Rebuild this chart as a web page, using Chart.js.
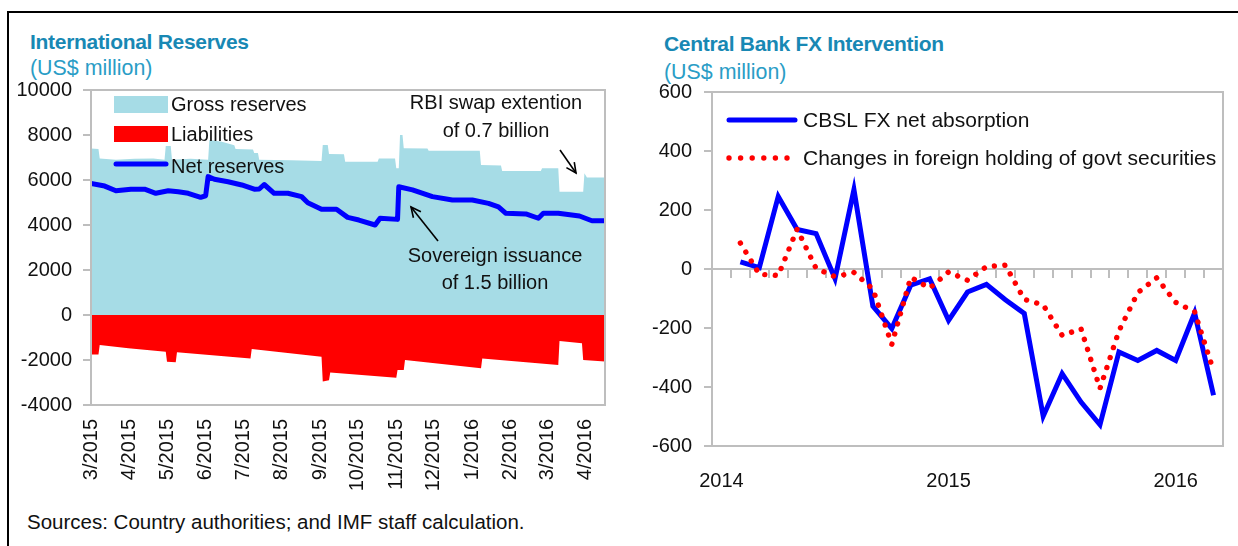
<!DOCTYPE html>
<html><head><meta charset="utf-8">
<script src="https://cdn.jsdelivr.net/npm/chart.js@4.4.1/dist/chart.umd.min.js"></script>
<style>
html,body{margin:0;padding:0;background:#fff;}
body{width:1238px;height:546px;position:relative;overflow:hidden;font-family:'Liberation Sans',Arial,sans-serif;}
.box{position:absolute;top:0;height:546px;}
.t{position:absolute;white-space:nowrap;line-height:24px;}
.ttl{font-weight:bold;font-size:21px;color:#1888B4;letter-spacing:-0.3px;}
.sub{font-size:21.4px;color:#2A9DC6;}
.line{position:absolute;background:#000;}
</style></head><body>
<div class="line" style="left:8px;top:11px;width:1230px;height:2px"></div>
<div class="line" style="left:7px;top:11px;width:2px;height:535px"></div>
<div class="t ttl" style="left:30px;top:30px">International Reserves</div>
<div class="t sub" style="left:30px;top:56px">(US$ million)</div>
<div class="t ttl" style="left:664px;top:32px">Central Bank FX Intervention</div>
<div class="t sub" style="left:664px;top:60px">(US$ million)</div>
<div class="t" style="left:27px;top:510px;font-size:20.5px;color:#111">Sources: Country authorities; and IMF staff calculation.</div>
<div class="box" style="left:0;width:620px"><canvas id="c1" width="620" height="546"></canvas></div>
<div class="box" style="left:620px;width:618px"><canvas id="c2" width="618" height="546"></canvas></div>
<script>
// ---------- Left chart data (days since 1 Mar 2015) ----------
const monthTickDays = [0,31,61,92,122,153,184,214,245,275,306,337,366,397];
const monthTickLabels = ['3/2015','4/2015','5/2015','6/2015','7/2015','8/2015','9/2015','10/2015','11/2015','12/2015','1/2016','2/2016','3/2016','4/2016'];

const grossDays = [0,6,7,20,35,50,59,60,64,65,80,94,95,105,115,116,130,131,134,135,160,185,186,190,191,203,204,230,231,244,245,247,248,250,251,270,271,312,313,329,330,361,362,375,376,395,396,398,413];
const grossVals = [7400,7380,6960,6900,6950,6960,6900,7510,7510,6900,6950,6900,7780,7700,7550,7380,7360,7200,7200,6900,6880,6850,7555,7555,7155,7150,6810,6810,6960,6960,6520,6520,8000,8000,7410,7400,7300,7300,6670,6650,6400,6400,6520,6520,5480,5480,6300,6110,6110];

const liabDays = [0,6,7,30,60,61,68,69,128,129,185,186,191,192,245,246,251,252,313,314,375,376,394,395,413];
const liabVals = [-1750,-1750,-1330,-1480,-1630,-2080,-2100,-1660,-1930,-1510,-1850,-2960,-2900,-2560,-2785,-2440,-2440,-2000,-2370,-1930,-2220,-1155,-1250,-2000,-2070];

const netDays = [0,11,20,32,43,52,62,70,78,88,92,94,99,110,121,131,135,139,147,158,169,174,185,197,206,215,228,232,246,247,258,274,290,306,319,327,333,349,359,363,375,392,402,413];
const netVals = [5850,5730,5520,5590,5590,5410,5520,5480,5410,5230,5300,6150,6030,5920,5780,5590,5600,5800,5410,5410,5260,4990,4700,4700,4340,4220,4000,4300,4250,5700,5560,5260,5110,5110,4960,4810,4520,4490,4300,4520,4520,4400,4190,4190];

// ---------- Right chart data (monthly) ----------
const fxMonths = ['Jan 2014','Feb 2014','Mar 2014','Apr 2014','May 2014','Jun 2014','Jul 2014','Aug 2014','Sep 2014','Oct 2014','Nov 2014','Dec 2014',
 'Jan 2015','Feb 2015','Mar 2015','Apr 2015','May 2015','Jun 2015','Jul 2015','Aug 2015','Sep 2015','Oct 2015','Nov 2015','Dec 2015',
 'Jan 2016','Feb 2016','Mar 2016'];
const cbslNet = [null,24,5,246,134,120,-33,269,-126,-202,-55,-33,-174,-78,-52,-104,-151,-499,-355,-451,-528,-281,-310,-276,-310,-149,-428];
const foreignHold = [null,88,-18,-22,135,2,-26,-12,-68,-256,-28,-65,-10,-38,8,13,-103,-122,-225,-203,-405,-210,-80,-30,-113,-145,-345];

// ---------- common ----------
Chart.defaults.font.family = "'Liberation Sans', Arial, sans-serif";
Chart.defaults.font.size = 20;
Chart.defaults.color = '#111';
const GREY = '#BEBEBE';
const toXY = (xs, ys) => xs.map((x, i) => ({x: x, y: ys[i]}));
const plainNum = v => String(v);

function arrow(ctx, x1, y1, x2, y2) {
  ctx.save();
  ctx.strokeStyle = '#000'; ctx.lineWidth = 1.6;
  ctx.beginPath(); ctx.moveTo(x1, y1); ctx.lineTo(x2, y2); ctx.stroke();
  const a = Math.atan2(y2 - y1, x2 - x1), L = 11, w = 0.45;
  ctx.beginPath();
  ctx.moveTo(x2 - L * Math.cos(a - w), y2 - L * Math.sin(a - w));
  ctx.lineTo(x2, y2);
  ctx.lineTo(x2 - L * Math.cos(a + w), y2 - L * Math.sin(a + w));
  ctx.stroke();
  ctx.restore();
}
const boxPlugin = {
  id: 'boxPlugin',
  afterDatasetsDraw(chart) {
    const {ctx, chartArea: a} = chart;
    ctx.save(); ctx.strokeStyle = GREY; ctx.lineWidth = 2;
    ctx.strokeRect(a.left, a.top, a.right - a.left, a.bottom - a.top);
    ctx.restore();
  }
};
const noSidePad = s => { s.paddingLeft = 0; s.paddingRight = 0; };

// ---------- Left chart ----------
const leftDecor = {
  id: 'leftDecor',
  afterDraw(chart) {
    const ctx = chart.ctx;
    ctx.save();
    ctx.font = "20px 'Liberation Sans', Arial, sans-serif";
    ctx.textBaseline = 'middle'; ctx.textAlign = 'left';
    ctx.fillStyle = '#A6DCE6'; ctx.fillRect(114, 96, 54, 17);
    ctx.fillStyle = '#FF0000'; ctx.fillRect(114, 126, 54, 16);
    ctx.strokeStyle = '#0000FF'; ctx.lineWidth = 5; ctx.lineCap = 'round';
    ctx.beginPath(); ctx.moveTo(116, 164); ctx.lineTo(166, 164); ctx.stroke();
    ctx.fillStyle = '#111';
    ctx.fillText('Gross reserves', 171, 105);
    ctx.fillText('Liabilities', 171, 135);
    ctx.fillText('Net reserves', 171, 167);
    ctx.textAlign = 'center';
    ctx.fillText('RBI swap extention', 496, 103);
    ctx.fillText('of 0.7 billion', 496, 131);
    ctx.fillText('Sovereign issuance', 495, 256);
    ctx.fillText('of 1.5 billion', 495, 283);
    ctx.restore();
    arrow(ctx, 560, 150, 576, 173);
    arrow(ctx, 438, 241, 411, 207);
  }
};
const monthTicks = s => { s.ticks = monthTickDays.map(v => ({value: v})); };
new Chart(document.getElementById('c1'), {
  type: 'line',
  data: {
    datasets: [
      {label: 'Net reserves', data: toXY(netDays, netVals), borderColor: '#0000FF', borderWidth: 5,
       pointRadius: 0, fill: false, order: 1, borderJoinStyle: 'round'},
      {label: 'Liabilities', data: toXY(liabDays, liabVals), borderWidth: 0, borderColor: 'rgba(0,0,0,0)',
       backgroundColor: '#FF0000', pointRadius: 0, fill: 'origin', order: 2},
      {label: 'Gross reserves', data: toXY(grossDays, grossVals), borderWidth: 0, borderColor: 'rgba(0,0,0,0)',
       backgroundColor: '#A6DCE6', pointRadius: 0, fill: 'origin', order: 3}
    ]
  },
  options: {
    responsive: false, animation: false, events: [],
    layout: {padding: {left: 0, top: 90, right: 15, bottom: 0}},
    plugins: {legend: {display: false}, tooltip: {enabled: false}},
    scales: {
      x: {type: 'linear', min: 0, max: 412.5, position: 'bottom',
          afterBuildTicks: monthTicks,
          afterFit: s => { s.height = 141; noSidePad(s); },
          grid: {display: false, drawTicks: false}, border: {display: false},
          ticks: {autoSkip: false, minRotation: 90, maxRotation: 90, padding: 14,
                  callback: v => monthTickLabels[monthTickDays.indexOf(v)]}},
      x0: {type: 'linear', min: 0, max: 412.5, position: {y: 0}, z: 1,
           afterBuildTicks: monthTicks,
           afterFit: noSidePad,
           grid: {drawOnChartArea: false, drawTicks: true, tickLength: 8, color: GREY, lineWidth: 2},
           border: {display: true, color: GREY, width: 2},
           ticks: {display: false}},
      y: {min: -4000, max: 10000, z: 1,
          afterFit: s => { s.width = 91; },
          grid: {drawOnChartArea: false, drawTicks: true, tickLength: 8, color: GREY, lineWidth: 2},
          border: {display: true, color: GREY, width: 2},
          ticks: {stepSize: 2000, padding: 11, callback: plainNum}}
    }
  },
  plugins: [boxPlugin, leftDecor]
});

// ---------- Right chart ----------
const rightDecor = {
  id: 'rightDecor',
  afterDraw(chart) {
    const ctx = chart.ctx;
    const ox = -620;
    ctx.save();
    ctx.strokeStyle = '#0000FF'; ctx.lineWidth = 5; ctx.lineCap = 'round';
    ctx.beginPath(); ctx.moveTo(729 + ox, 120); ctx.lineTo(795 + ox, 120); ctx.stroke();
    ctx.fillStyle = '#FF0000';
    for (let i = 0; i < 6; i++) {
      ctx.beginPath(); ctx.arc(729 + ox + i * 11.6, 158, 2.7, 0, Math.PI * 2); ctx.fill();
    }
    ctx.font = "21px 'Liberation Sans', Arial, sans-serif";
    ctx.fillStyle = '#111'; ctx.textBaseline = 'middle'; ctx.textAlign = 'left';
    ctx.fillText('CBSL FX net absorption', 803 + ox, 121);
    ctx.fillText('Changes in foreign holding of govt securities', 803 + ox, 159);
    ctx.restore();
  }
};
new Chart(document.getElementById('c2'), {
  type: 'line',
  data: {
    labels: fxMonths,
    datasets: [
      {label: 'CBSL FX net absorption', data: cbslNet, borderColor: '#0000FF', borderWidth: 5,
       pointRadius: 0, tension: 0, order: 2, borderJoinStyle: 'miter', spanGaps: false},
      {label: 'Changes in foreign holding of govt securities', data: foreignHold, borderColor: '#FF0000',
       borderWidth: 5.4, borderDash: [0.01, 10.5], borderCapStyle: 'round', pointRadius: 0, tension: 0, order: 1}
    ]
  },
  options: {
    responsive: false, animation: false, events: [],
    layout: {padding: {left: 0, top: 92, right: 15, bottom: 0}},
    plugins: {legend: {display: false}, tooltip: {enabled: false}},
    scales: {
      x: {type: 'category', offset: true, position: 'bottom',
          afterFit: s => { s.height = 100; noSidePad(s); },
          grid: {display: false, drawTicks: false}, border: {display: false},
          ticks: {autoSkip: false, maxRotation: 0, minRotation: 0, padding: 23,
                  callback: (v, i) => fxMonths[i].startsWith('Jan') ? fxMonths[i].slice(4) : ''}},
      x0: {type: 'category', offset: true, position: {y: 0}, z: 1,
           afterFit: noSidePad,
           grid: {drawOnChartArea: false, drawTicks: true, tickLength: 8, color: GREY, lineWidth: 2, offset: true},
           border: {display: true, color: GREY, width: 2},
           ticks: {display: false, autoSkip: false}},
      y: {min: -600, max: 600, z: 1,
          afterFit: s => { s.width = 92; },
          grid: {drawOnChartArea: false, drawTicks: true, tickLength: 8, color: GREY, lineWidth: 2},
          border: {display: true, color: GREY, width: 2},
          ticks: {stepSize: 200, padding: 12, callback: plainNum}}
    }
  },
  plugins: [boxPlugin, rightDecor]
});
</script>
</body></html>
